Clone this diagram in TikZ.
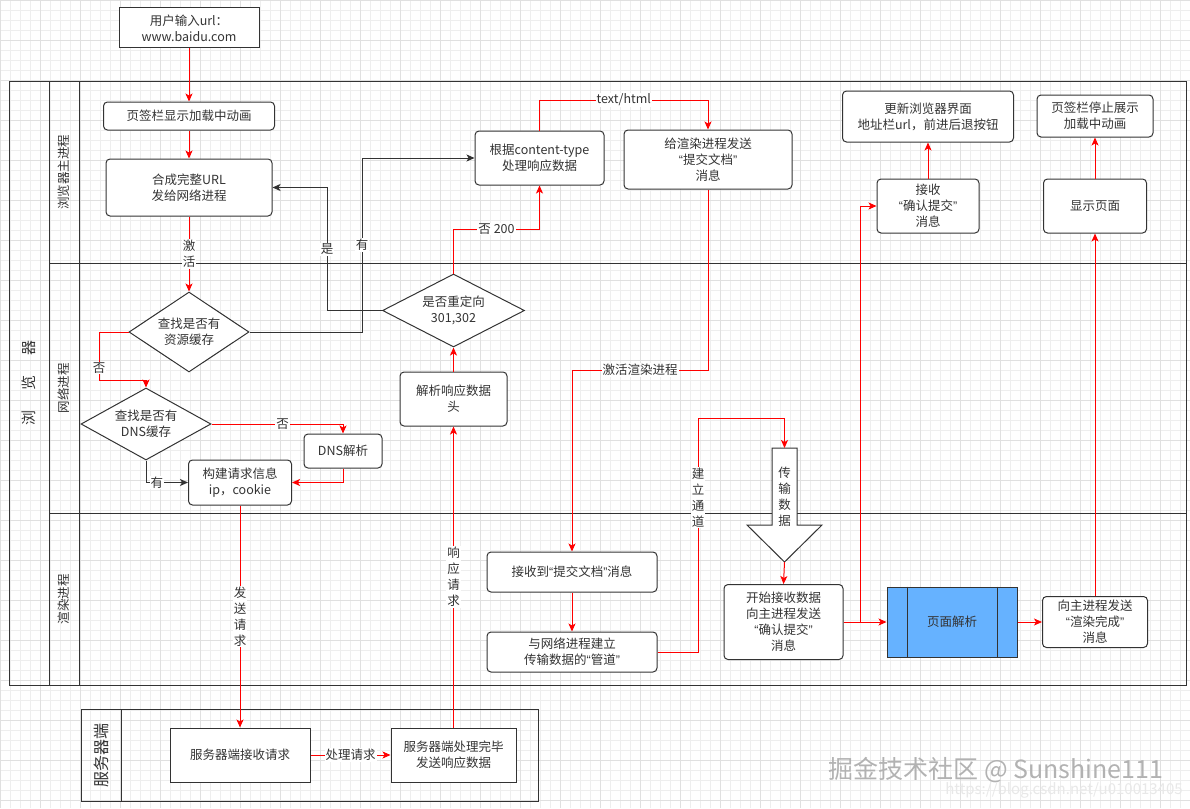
\documentclass[tikz,border=0pt]{standalone}
\usepackage{fontspec}
\setmainfont{Noto Sans CJK SC}
\newfontfamily\qfont{Liberation Sans}
\newcommand{\oqt}{{\qfont “}}
\newcommand{\cqt}{{\qfont ”}}
\usetikzlibrary{shapes.geometric,arrows.meta,calc}
\definecolor{ln}{HTML}{333333}
\definecolor{rd}{HTML}{FF0000}
\definecolor{blu}{HTML}{66B2FF}
\definecolor{gridminor}{HTML}{EEEEEE}
\definecolor{gridmajor}{HTML}{E0E0E0}
\tikzset{
  box/.style={draw=ln, line width=1pt, fill=white, rounded corners=4pt, align=center, inner sep=2pt, text=ln},
  sbox/.style={box, rounded corners=0pt},
  dia/.style={diamond, draw=ln, line width=1pt, fill=white, aspect=1.6, inner sep=0pt, align=center, text=ln},
  rl/.style={draw=rd, line width=1pt, -{Stealth[length=8pt,width=7pt,inset=2pt]}},
  dl/.style={draw=ln, line width=1pt, -{Stealth[length=8pt,width=7pt,inset=2pt]}},
  lab/.style={fill=white, inner sep=1pt, text=ln, align=center},
  pool/.style={draw=ln, line width=1pt}
}
\begin{document}
\begin{tikzpicture}[x=1pt,y=-1pt, every node/.style={font=\fontsize{12.5}{16}\selectfont, text=ln}]
\useasboundingbox (0,0) rectangle (1190,808);
\fill[white] (0,0) rectangle (1190,808);
\foreach \x in {0,10,...,1190} \draw[gridminor, line width=0.6pt] (\x,0) -- (\x,808);
\foreach \y in {0,10,...,800} \draw[gridminor, line width=0.6pt] (0,\y) -- (1190,\y);
\foreach \x in {0,40,...,1190} \draw[gridmajor, line width=0.6pt] (\x,0) -- (\x,808);
\foreach \y in {0,40,...,800} \draw[gridmajor, line width=0.6pt] (0,\y) -- (1190,\y);

% browser pool
\draw[pool] (9,81) rectangle (1186,685);
\draw[pool] (49,81) -- (49,685);
\draw[pool] (79,81) -- (79,685);
\draw[pool] (49,263) -- (1186,263);
\draw[pool] (49,513) -- (1186,513);
\node[rotate=90, font=\fontsize{15}{15}\selectfont] (poolb) at (29,383) {浏\hspace{20pt}览\hspace{20pt}器};
\node[rotate=90] (lane1) at (64,172) {浏览器主进程};
\node[rotate=90] (lane2) at (64,388) {网络进程};
\node[rotate=90] (lane3) at (64,599) {渲染进程};

% server pool
\draw[pool] (81,709) rectangle (538,801);
\draw[pool] (121,709) -- (121,801);
\node[rotate=90, font=\fontsize{16}{16}\selectfont] (pools) at (101,755) {服务器端};

% nodes
\node[sbox, minimum width=140pt, minimum height=40pt] (url) at (189,28) {用户输入url：\\www.baidu.com};
\node[box, minimum width=171pt, minimum height=28pt] (tab) at (189,116) {页签栏显示加载中动画};
\node[box, minimum width=166pt, minimum height=57pt] (compose) at (189,187.5) {合成完整URL\\发给网络进程};
\node[dia, minimum width=120pt, minimum height=80pt] (d1) at (189,332) {查找是否有\\资源缓存};
\node[dia, minimum width=130pt, minimum height=72pt] (d2) at (146,424) {查找是否有\\DNS缓存};
\node[box, minimum width=78pt, minimum height=34pt] (dnsr) at (343,451) {DNS解析};
\node[box, minimum width=103pt, minimum height=45pt] (build) at (240,482.5) {构建请求信息\\ip，cookie};
\node[sbox, minimum width=140pt, minimum height=54pt] (srecv) at (240,755) {服务器端接收请求};
\node[sbox, minimum width=125pt, minimum height=54pt] (sdone) at (453.5,755) {服务器端处理完毕\\发送响应数据};
\node[box, minimum width=107pt, minimum height=54pt] (parse) at (453.5,399) {解析响应数据\\头};
\node[dia, minimum width=142pt, minimum height=73pt] (d3) at (453.5,310.5) {是否重定向\\301,302};
\node[box, minimum width=129pt, minimum height=54pt] (ctype) at (539.5,158) {根据content-type\\处理响应数据};
\node[box, minimum width=168pt, minimum height=59pt] (send) at (708,159.5) {给渲染进程发送\\\oqt 提交文档\cqt\\消息};
\node[box, minimum width=170pt, minimum height=40pt] (recvdoc) at (572,572) {接收到\oqt 提交文档\cqt 消息};
\node[box, minimum width=170pt, minimum height=40pt] (pipe) at (572,652) {与网络进程建立\\传输数据的\oqt 管道\cqt};
\node[box, minimum width=119pt, minimum height=75pt] (startrecv) at (783.5,622) {开始接收数据\\向主进程发送\\\oqt 确认提交\cqt\\消息};
\node[sbox, fill=blu, minimum width=130pt, minimum height=70pt] (pageparse) at (952,622) {页面解析};
\draw[ln, line width=1pt] ([xshift=21pt]pageparse.north west) -- ([xshift=21pt]pageparse.south west);
\draw[ln, line width=1pt] ([xshift=-20pt]pageparse.north east) -- ([xshift=-20pt]pageparse.south east);
\node[box, minimum width=105pt, minimum height=51pt] (renderdone) at (1095,622) {向主进程发送\\\oqt 渲染完成\cqt\\消息};
\node[box, minimum width=103pt, minimum height=54pt] (showpage) at (1095,206) {显示页面};
\node[box, minimum width=116pt, minimum height=42pt] (stoptab) at (1095,116) {页签栏停止展示\\加载中动画};
\node[box, minimum width=102pt, minimum height=54pt] (confirm) at (928,206) {接收\\\oqt 确认提交\cqt\\消息};
\node[box, minimum width=171pt, minimum height=51pt] (update) at (928,116.5) {更新浏览器界面\\地址栏url，前进后退按钮};

% big down arrow
\draw[ln, line width=1pt, fill=white] (772,448) -- (797,448) -- (797,525) -- (822,525) -- (784.5,562) -- (747,525) -- (772,525) -- cycle;
\coordinate (bigtop) at (784.5,448);
\coordinate (bigtip) at (784.5,562);
\node[align=center] (bigtxt) at (784.5,497) {传\\输\\数\\据};

% connectors
\draw[rl] (url.south) -- (tab.north);
\draw[rl] (tab.south) -- (compose.north);
\draw[rl] (compose.south) -- node[lab]{激\\活} (d1.north);
\draw[rl] (d1.west) -- (99,332) -- node[lab,pos=0.75]{否} (99,380) -| (d2.north);
\draw[rl] (d2.east) -- node[lab,pos=0.54]{否} (343,424) -- (dnsr.north);
\draw[rl] (dnsr.south) |- (build.east);
\draw[dl] (d2.south) |- node[lab,pos=0.63]{有} (build.west);
\draw[rl] (build.south) -- node[lab]{发\\送\\请\\求} (srecv.north);
\draw[rl] (srecv.east) -- node[lab]{处理请求} (sdone.west);
\draw[rl] (sdone.north) -- node[lab]{响\\应\\请\\求} (parse.south);
\draw[rl] (parse.north) -- (d3.south);
\draw[dl] (d3.west) -- (327,310.5) |- node[lab,pos=0.25]{是} (compose.east);
\draw[dl] (d1.east) -- (362,332) |- node[lab,pos=0.25]{有} (ctype.west);
\draw[rl] (d3.north) -- (453.5,229) -| node[lab,pos=0.25]{否 200} (ctype.south);
\draw[rl] (ctype.north) -- (539.5,100) -| node[lab,pos=0.25]{text/html} (send.north);
\draw[rl] (send.south) -- (708,370) -| node[lab,pos=0.25]{激活渲染进程} (recvdoc.north);
\draw[rl] (recvdoc.south) -- (pipe.north);
\draw[rl] (pipe.east) -- (698,652) -- node[lab,pos=0.66]{建\\立\\通\\道} (698,418) -| (bigtop);
\draw[rl] (bigtip) -- (startrecv.north);
\draw[rl] (startrecv.east) -- (pageparse.west);
\draw[rl] (startrecv.east) -- (860,622) |- (confirm.west);
\draw[rl] (confirm.north) -- (update.south);
\draw[rl] (pageparse.east) -- (renderdone.west);
\draw[rl] (renderdone.north) -- (showpage.south);
\draw[rl] (showpage.north) -- (stoptab.south);

% watermark
\node[font=\fontsize{25}{25}\selectfont, text=gray!60] (wm) at (996,770) {掘金技术社区 @ Sunshine111};
\node[font=\fontsize{15}{15}\selectfont, text=gray!18] (wm2) at (1064,790) {https://blog.csdn.net/u010013405};
\end{tikzpicture}
\end{document}
